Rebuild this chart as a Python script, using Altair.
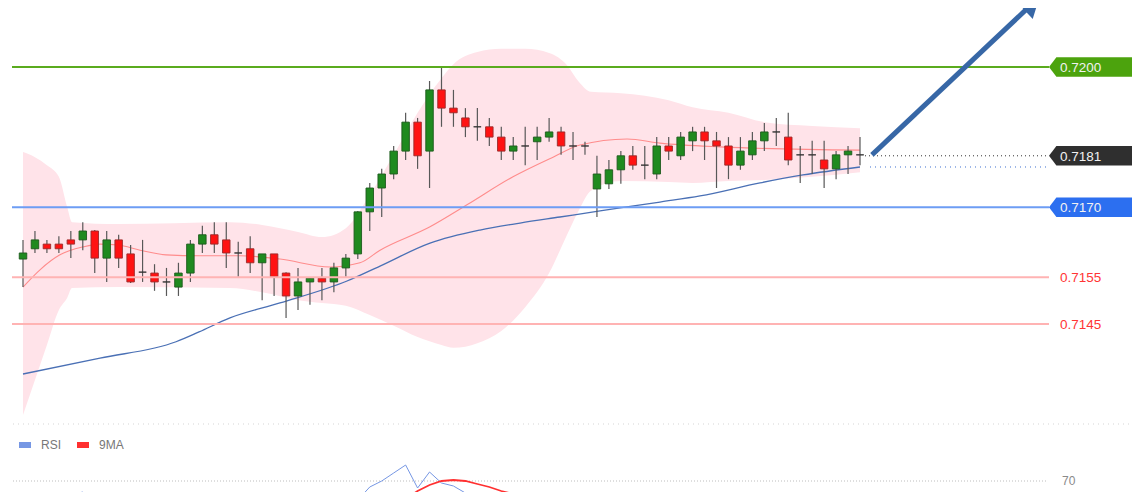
import altair as alt
import pandas as pd

# ---------------- candles ----------------
opens = [0.71589, 0.71611, 0.71621, 0.71621, 0.71630, 0.71630, 0.71649, 0.71591, 0.71630, 0.71600,
         0.71561, 0.71559, 0.71540, 0.71529, 0.71559, 0.71621, 0.71641, 0.71630, 0.71602, 0.71611,
         0.71581, 0.71600, 0.71559, 0.71510, 0.71540, 0.71548, 0.71540, 0.71570, 0.71600, 0.71690,
         0.71741, 0.71771, 0.71820, 0.71882, 0.71820, 0.71951, 0.71912, 0.71891, 0.71872, 0.71872,
         0.71850, 0.71820, 0.71831, 0.71840, 0.71850, 0.71861, 0.71831, 0.71831, 0.71739, 0.71750,
         0.71780, 0.71810, 0.71790, 0.71771, 0.71831, 0.71810, 0.71842, 0.71861, 0.71842, 0.71831,
         0.71790, 0.71812, 0.71842, 0.71861, 0.71850, 0.71812, 0.71812, 0.71801, 0.71782, 0.71812,
         0.71812]
highs = [0.71630, 0.71649, 0.71630, 0.71638, 0.71649, 0.71668, 0.71651, 0.71649, 0.71641, 0.71619,
         0.71630, 0.71578, 0.71570, 0.71581, 0.71630, 0.71660, 0.71668, 0.71668, 0.71626, 0.71638,
         0.71600, 0.71600, 0.71561, 0.71570, 0.71548, 0.71570, 0.71581, 0.71600, 0.71692, 0.71752,
         0.71782, 0.71831, 0.71902, 0.71891, 0.71970, 0.72000, 0.71951, 0.71912, 0.71912, 0.71891,
         0.71872, 0.71850, 0.71872, 0.71872, 0.71891, 0.71872, 0.71861, 0.71840, 0.71810, 0.71801,
         0.71820, 0.71831, 0.71831, 0.71850, 0.71850, 0.71861, 0.71872, 0.71872, 0.71861, 0.71850,
         0.71850, 0.71861, 0.71880, 0.71891, 0.71902, 0.71831, 0.71842, 0.71842, 0.71820, 0.71831,
         0.71850]
lows = [0.71529, 0.71602, 0.71602, 0.71602, 0.71591, 0.71608, 0.71559, 0.71540, 0.71570, 0.71538,
        0.71540, 0.71521, 0.71510, 0.71510, 0.71540, 0.71602, 0.71602, 0.71570, 0.71551, 0.71559,
        0.71501, 0.71510, 0.71463, 0.71480, 0.71491, 0.71501, 0.71518, 0.71551, 0.71589, 0.71649,
        0.71679, 0.71760, 0.71801, 0.71782, 0.71741, 0.71872, 0.71872, 0.71850, 0.71842, 0.71831,
        0.71801, 0.71801, 0.71790, 0.71801, 0.71840, 0.71812, 0.71801, 0.71812, 0.71679, 0.71739,
        0.71750, 0.71780, 0.71760, 0.71760, 0.71801, 0.71801, 0.71820, 0.71801, 0.71741, 0.71760,
        0.71780, 0.71801, 0.71820, 0.71831, 0.71790, 0.71752, 0.71771, 0.71741, 0.71760, 0.71771,
        0.71790]
closes = [0.71602, 0.71630, 0.71611, 0.71611, 0.71621, 0.71649, 0.71591, 0.71630, 0.71591, 0.71540,
          0.71561, 0.71540, 0.71540, 0.71559, 0.71621, 0.71641, 0.71621, 0.71602, 0.71602, 0.71581,
          0.71600, 0.71551, 0.71510, 0.71540, 0.71548, 0.71540, 0.71570, 0.71591, 0.71690, 0.71741,
          0.71771, 0.71820, 0.71882, 0.71810, 0.71951, 0.71912, 0.71902, 0.71872, 0.71872, 0.71850,
          0.71820, 0.71831, 0.71831, 0.71850, 0.71861, 0.71831, 0.71831, 0.71831, 0.71771, 0.71780,
          0.71810, 0.71790, 0.71790, 0.71831, 0.71820, 0.71850, 0.71861, 0.71842, 0.71831, 0.71790,
          0.71820, 0.71842, 0.71861, 0.71861, 0.71801, 0.71812, 0.71812, 0.71782, 0.71812, 0.71820,
          0.71812]
candle_idx = list(range(len(opens)))

# ---------------- Bollinger band (read points) ----------------
band_idx = [0, 1, 2, 3, 3.7, 4.1, 8, 17.3, 20, 23, 25, 27, 29, 31, 33, 35, 36, 38, 40, 42, 44,
            45.5, 46.5, 47.5, 50, 54, 56, 59, 62, 66, 70]
band_upper = [0.71818, 0.71807, 0.71790, 0.71765, 0.71700, 0.71668, 0.71664, 0.71668, 0.71662,
              0.71647, 0.71636, 0.71655, 0.71726, 0.71812, 0.71902, 0.71976, 0.72006, 0.72032,
              0.72039, 0.72039, 0.72030, 0.72004, 0.71968, 0.71947, 0.71944, 0.71929, 0.71914,
              0.71902, 0.71882, 0.71874, 0.71869]
band_lower = [0.71255, 0.71330, 0.71405, 0.71480, 0.71506, 0.71527, 0.71529, 0.71527, 0.71518,
              0.71501, 0.71495, 0.71489, 0.71469, 0.71446, 0.71422, 0.71405, 0.71399, 0.71409,
              0.71435, 0.71486, 0.71559, 0.71641, 0.71694, 0.71735, 0.71756, 0.71754, 0.71752,
              0.71756, 0.71758, 0.71765, 0.71775]

# middle band (red) and slow MA (blue)
mid_idx = [0, 1.42, 3.09, 5.02, 6.44, 7.95, 9.79, 11.96, 14.8, 18.15, 21.49, 25.68, 28.18, 29.86,
           34.04, 37.13, 40.98, 44.33, 46.58, 50.52, 53.27, 58.29, 70]
mid_val = [0.71529, 0.71566, 0.71598, 0.71615, 0.71621, 0.71619, 0.71608, 0.71598, 0.71596,
           0.71596, 0.71589, 0.71572, 0.71581, 0.71608, 0.71658, 0.71705, 0.71765, 0.71807,
           0.71833, 0.71846, 0.71837, 0.71829, 0.71822]
ma_idx = [0, 6.44, 12.8, 14.72, 17.31, 21.49, 27.1, 29.86, 34.04, 38.22, 41.57, 44.91, 48.26,
          53.27, 56.62, 61.64, 65.23, 70]
ma_val = [0.71343, 0.71377, 0.71412, 0.71433, 0.71463, 0.71495, 0.71542, 0.71574, 0.71623,
          0.71651, 0.71666, 0.71679, 0.71692, 0.71711, 0.71724, 0.71752, 0.71769, 0.71786]

# ---------------- levels ----------------
level_prices = [0.7200, 0.7170, 0.7155, 0.7145]
level_kinds = ["res", "piv", "sup", "sup"]
flag_prices = [0.7200, 0.7181, 0.7170]
flag_kinds = ["res", "last", "piv"]
flag_labels = ["0.7200", "0.7181", "0.7170"]
sup_prices = [0.7155, 0.7145]
sup_labels = ["0.7155", "0.7145"]
last_price = 0.7181
last_ma = 0.71786

# arrow annotation
arrow_idx = [71.0, 84.4]
arrow_val = [0.71812, 0.72135]

# ---------------- RSI panel ----------------
rsi_idx = [0, 1, 2, 3, 4, 5, 6, 7, 26, 27, 28, 29, 30, 31, 32, 33, 34, 35, 36, 37, 38, 39, 40, 41]
rsi_val = [63.5, 61.5, 62, 62, 63, 64.5, 57, 55, 50, 55, 60.5, 67, 70, 74, 78, 66.5, 74.5, 69,
           67.5, 64, 63.5, 60.5, 55, 52]
ma9_idx = [0, 2, 4, 6, 7, 8, 29, 30, 31, 32, 33, 34, 35, 36, 37, 38, 39, 40, 41, 42, 43, 44, 45, 46]
ma9_val = [64, 63, 62, 61, 60.5, 58, 50, 54, 57.5, 61, 65, 68, 70, 70.5, 70, 68.5, 67, 65, 63.5,
           62.5, 61.5, 61, 59, 56]
rsi_level = 70

# ---------------- frames ----------------
candles = pd.DataFrame({"i": candle_idx, "open": opens, "high": highs, "low": lows, "close": closes})
candles["dir"] = ["up" if c > o else ("down" if c < o else "doji") for o, c in zip(opens, closes)]
band = pd.DataFrame({"i": band_idx, "upper": band_upper, "lower": band_lower})
mid = pd.DataFrame({"i": mid_idx, "v": mid_val})
ma = pd.DataFrame({"i": ma_idx, "v": ma_val})
levels = pd.DataFrame({"p": level_prices, "kind": level_kinds})
flags = pd.DataFrame({"p": flag_prices, "kind": flag_kinds, "label": flag_labels})
sups = pd.DataFrame({"p": sup_prices, "label": sup_labels})
arrow = pd.DataFrame({"i": arrow_idx, "v": arrow_val})
rsi = pd.concat([
    pd.DataFrame({"i": rsi_idx, "v": rsi_val, "series": "RSI"}),
    pd.DataFrame({"i": ma9_idx, "v": ma9_val, "series": "9MA"}),
])

# page has an 8px margin: the plot covers reference pixels 8..1132 x 8..492
W, H = 1124, 484
XS = alt.Scale(domain=[0, 70], range=[15, 852], padding=0, nice=False, zero=False)
PS = alt.Scale(domain=[0.7145, 0.7200], range=[316, 59], padding=0, nice=False, zero=False)
RS = alt.Scale(domain=[60, 80], range=[493, 453], padding=0, nice=False, zero=False)
FONT = "Liberation Sans"

x_i = alt.X("i:Q", scale=XS, axis=None)

band_l = alt.Chart(band).mark_area(color="#ffe3e9", opacity=1, interpolate="monotone").encode(
    x=x_i, y=alt.Y("upper:Q", scale=PS, axis=None), y2="lower:Q")

mid_l = alt.Chart(mid).mark_line(color="#ff8c8c", strokeWidth=1.1, interpolate="monotone").encode(
    x=x_i, y=alt.Y("v:Q", scale=PS, axis=None))
ma_l = alt.Chart(ma).mark_line(color="#4a70b5", strokeWidth=1.3, interpolate="monotone").encode(
    x=x_i, y=alt.Y("v:Q", scale=PS, axis=None))

wick_l = alt.Chart(candles).mark_rule(color="#585858", strokeWidth=1.2).encode(
    x=x_i, y=alt.Y("low:Q", scale=PS, axis=None), y2="high:Q")

dir_dom = ["up", "down", "doji"]
body_l = alt.Chart(candles).mark_bar(size=7.5, strokeWidth=0.9).encode(
    x=x_i, y=alt.Y("open:Q", scale=PS, axis=None), y2="close:Q",
    fill=alt.Fill("dir:N", scale=alt.Scale(domain=dir_dom, range=["#1f8a1f", "#ff1212", "#333333"]), legend=None),
    stroke=alt.Stroke("dir:N", scale=alt.Scale(domain=dir_dom, range=["#1d5a1d", "#9a2a2a", "#333333"]), legend=None),
)

lvl_l = alt.Chart(levels).mark_rule(strokeWidth=2).encode(
    x=alt.value(4), x2=alt.value(1041),
    y=alt.Y("p:Q", scale=PS, axis=None),
    color=alt.Color("kind:N", scale=alt.Scale(domain=["res", "piv", "sup"], range=["#5aab1e", "#6d9df4", "#ffb3b3"]), legend=None),
)

last_l = alt.Chart(pd.DataFrame({"p": [last_price]})).mark_rule(color="#333333", strokeWidth=1, strokeDash=[1, 3]).encode(
    x=alt.value(857), x2=alt.value(1041), y=alt.Y("p:Q", scale=PS, axis=None))
lastma_l = alt.Chart(pd.DataFrame({"p": [last_ma]})).mark_rule(color="#3d6fd0", strokeWidth=1, strokeDash=[1, 4]).encode(
    x=alt.value(862), x2=alt.value(1041), y=alt.Y("p:Q", scale=PS, axis=None))

FLAG = "M -1 0 L -0.83 -0.223 L 1 -0.223 L 1 0.223 L -0.83 0.223 Z"
flag_l = alt.Chart(flags).mark_point(shape=FLAG, size=7569, filled=True, opacity=1, strokeWidth=0).encode(
    x=alt.value(1084.5), y=alt.Y("p:Q", scale=PS, axis=None),
    color=alt.Color("kind:N", scale=alt.Scale(domain=["res", "last", "piv"], range=["#4ca30d", "#2f2f2f", "#2c6ff0"]), legend=None),
)
flag_t = alt.Chart(flags).mark_text(align="left", baseline="middle", dy=1, fontSize=13.5, font=FONT, color="#f2f2f2").encode(
    x=alt.value(1052), y=alt.Y("p:Q", scale=PS, axis=None), text="label:N")
sup_t = alt.Chart(sups).mark_text(align="left", baseline="middle", dy=1, fontSize=13.5, font=FONT, color="#ff3535").encode(
    x=alt.value(1052), y=alt.Y("p:Q", scale=PS, axis=None), text="label:N")

arrow_l = alt.Chart(arrow).mark_line(color="#3767a6", strokeWidth=5, strokeCap="butt").encode(
    x=x_i, y=alt.Y("v:Q", scale=PS, axis=None))
head_l = alt.Chart(arrow.tail(1)).mark_point(shape="triangle-up", size=520, angle=47, filled=True, opacity=1,
                                              color="#3767a6", strokeWidth=0).encode(
    x=x_i, y=alt.Y("v:Q", scale=PS, axis=None))

sep_l = alt.Chart(pd.DataFrame({"k": [0]})).mark_rule(color="#d5d5d5", strokeDash=[1, 4], strokeWidth=1).encode(
    x=alt.value(5), x2=alt.value(1124), y=alt.value(416))

r70_l = alt.Chart(pd.DataFrame({"v": [rsi_level]})).mark_rule(color="#bdbdbd", strokeDash=[1, 2], strokeWidth=1).encode(
    x=alt.value(5), x2=alt.value(1039), y=alt.Y("v:Q", scale=RS, axis=None))
r70_t = alt.Chart(pd.DataFrame({"v": [rsi_level], "t": ["70"]})).mark_text(
    align="left", baseline="middle", fontSize=12, font=FONT, color="#8a8a8a").encode(
    x=alt.value(1054), y=alt.Y("v:Q", scale=RS, axis=None), text="t:N")

LEG = "M -1 0 L 1 0"
rsi_l = alt.Chart(rsi).mark_line(clip=True).encode(
    x=x_i, y=alt.Y("v:Q", scale=RS, axis=None),
    color=alt.Color("series:N", scale=alt.Scale(domain=["RSI", "9MA"], range=["#7697e4", "#ff3030"]),
                    legend=alt.Legend(title=None, orient="none", legendX=8, legendY=428, direction="horizontal",
                                      symbolType=LEG, symbolSize=144, symbolStrokeWidth=6,
                                      labelFont=FONT, labelFontSize=12, labelColor="#777777",
                                      labelOffset=7, columnPadding=3)),
    strokeWidth=alt.StrokeWidth("series:N", scale=alt.Scale(domain=["RSI", "9MA"], range=[1, 1.8]), legend=None),
)

chart = alt.layer(
    band_l, mid_l, ma_l, wick_l, body_l, lvl_l, last_l, lastma_l, flag_l, flag_t, sup_t,
    arrow_l, head_l, sep_l, r70_l, r70_t, rsi_l,
).resolve_scale(
    y="independent", color="independent", fill="independent", stroke="independent"
).properties(
    width=W, height=H, autosize=alt.AutoSizeParams(type="none"), padding=0, background="#ffffff"
).configure_view(stroke=None)

chart.save("out.html", embed_options={"renderer": "svg", "actions": False})
